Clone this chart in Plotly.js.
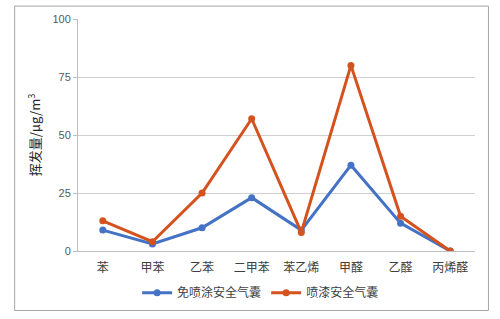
<!DOCTYPE html>
<html><head><meta charset="utf-8">
<script src="https://cdn.plot.ly/plotly-3.0.1.min.js"></script>
<style>html,body{margin:0;padding:0;background:#fff}</style>
</head><body><div id="chart" style="width:500px;height:319px"></div>
<script>
const categories = ['苯','甲苯','乙苯','二甲苯','苯乙烯','甲醛','乙醛','丙烯醛'];
const seriesNames = ['免喷涂安全气囊','喷漆安全气囊'];
const freeSpray = [9, 3, 10, 23, 9, 37, 12, 0];
const painted = [13, 4, 25, 57, 8, 80, 15, 0];
const yTicks = [0, 25, 50, 75, 100];

const W = 500, H = 319;
const L = 77.5, R = 475.5, T = 19, B = 253;
const pw = R - L, ph = B - T;
const px = v => (v - L) / pw;
const py = v => (B - v) / ph;

const font = "'Noto Sans CJK SC', 'Noto Sans', sans-serif";
const traces = [
  {x: categories, y: freeSpray, name: seriesNames[0], type: 'scatter', mode: 'lines+markers',
   line: {color: '#4472C4', width: 3}, marker: {color: '#4472C4', size: 7}},
  {x: categories, y: painted, name: seriesNames[1], type: 'scatter', mode: 'lines+markers',
   line: {color: '#D4521E', width: 3}, marker: {color: '#D4521E', size: 7}}
];
const layout = {
  width: W, height: H,
  margin: {l: L, r: W - R, t: T, b: H - B},
  paper_bgcolor: '#fff', plot_bgcolor: '#fff',
  font: {family: font, color: '#404040', size: 12},
  showlegend: true,
  legend: {orientation: 'h', x: 0.46, xanchor: 'center', y: py(295), yanchor: 'middle',
    font: {family: font, size: 12, color: '#404040'}, itemwidth: 30, tracegroupgap: 0},
  xaxis: {type: 'category', showgrid: false, showline: true, linecolor: '#BFBFBF', linewidth: 1,
    ticks: '', ticklabelstandoff: 6, tickfont: {family: font, size: 12, color: '#404040'}, zeroline: false,
    range: [-0.5, categories.length - 0.5], fixedrange: true},
  yaxis: {range: [0, 100], tickvals: yTicks, showgrid: true, gridcolor: '#D0D0D0', gridwidth: 1,
    showline: true, linecolor: '#BFBFBF', linewidth: 1, ticks: 'outside', ticklen: 4, tickcolor: '#BFBFBF',
    tickfont: {family: "'Liberation Sans', sans-serif", size: 11, color: '#595959'}, zeroline: false,
    title: {text: '挥发量/μg/m<sup>3</sup>', font: {family: font, size: 13, color: '#262626'}, standoff: 8}},
  shapes: [{type: 'rect', xref: 'paper', yref: 'paper', x0: px(14), x1: px(489), y0: py(6), y1: py(313),
    line: {color: '#A6A6A6', width: 1}, fillcolor: 'rgba(0,0,0,0)', layer: 'below'}]
};
Plotly.newPlot('chart', traces, layout, {displayModeBar: false, staticPlot: true});
</script></body></html>
